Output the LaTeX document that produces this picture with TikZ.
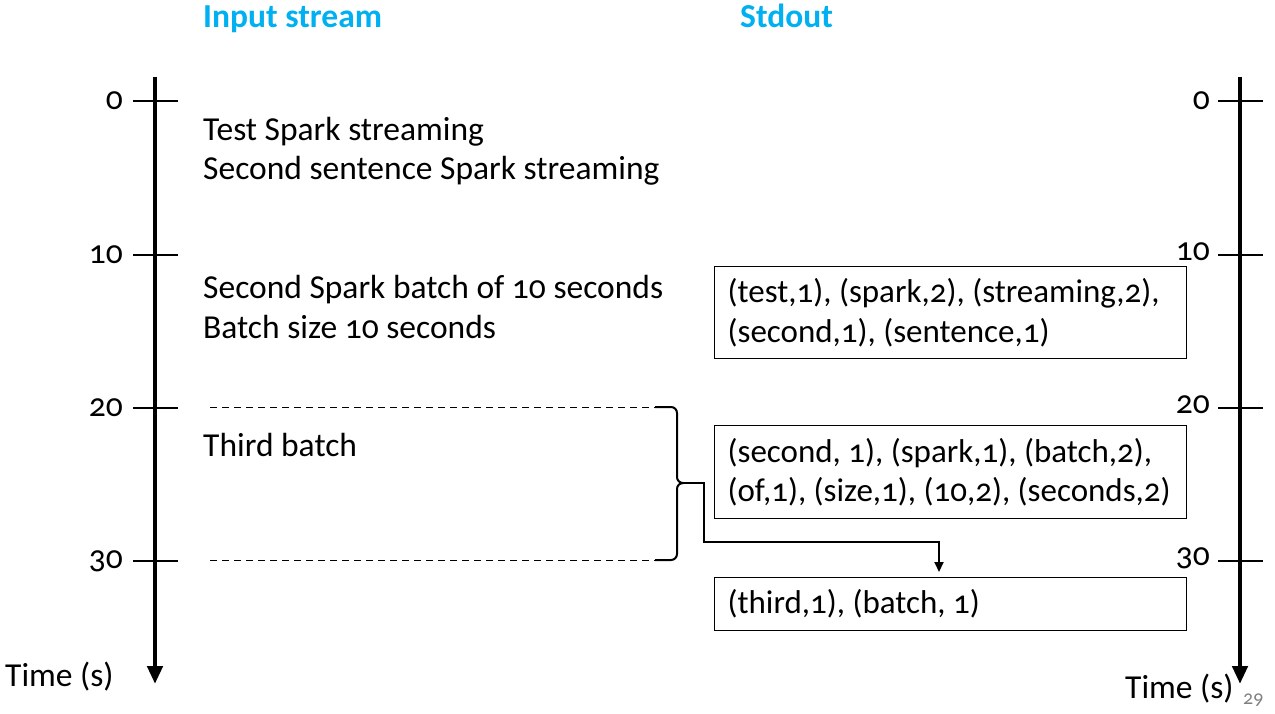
\documentclass[tikz,border=0pt]{standalone}
\usepackage{fontspec}
\setmainfont{Carlito}[Numbers=OldStyle]
\usetikzlibrary{arrows.meta}
\definecolor{titleblue}{RGB}{0,176,240}
\tikzset{
  axis/.style={line width=4.5pt, -{Triangle[length=18pt,width=15pt]}},
  tick/.style={line width=2.5pt},
  outbox/.style={draw, line width=1.2pt, anchor=north west, minimum width=472pt, text width=446pt, inner xsep=13pt, align=flush left, font=\fontsize{33}{39.5}\selectfont},
}

\begin{document}
\begin{tikzpicture}[x=1pt, y=-1pt, font=\fontsize{33.5}{39.5}\selectfont]
\useasboundingbox (0,0) rectangle (1275,714);

% titles
\node[anchor=base west, inner sep=0, text=titleblue, font=\fontsize{33.5}{38}\selectfont\bfseries] (inTitle) at (203,28) {Input stream};
\node[anchor=base west, inner sep=0, text=titleblue, font=\fontsize{33.5}{38}\selectfont\bfseries] (outTitle) at (740,28) {Stdout};

% time axes
\coordinate (L0) at (155,77); \coordinate (L1) at (155,684);
\coordinate (R0) at (1240,77); \coordinate (R1) at (1240,684);
\draw[axis] (L0) -- (L1);
\draw[axis] (R0) -- (R1);
\foreach \t/\y/\s in {0/101/0,10/255/3,20/408/3,30/561/3} {
  \coordinate (tL\t) at (155,\y);
  \coordinate (tR\t) at (1240,\y);
  \draw[tick] ([xshift=-22pt]tL\t) -- ([xshift=23pt]tL\t);
  \draw[tick] ([xshift=-22pt]tR\t) -- ([xshift=23pt]tR\t);
  \node[anchor=east, inner sep=0] (nL\t) at ([xshift=-32pt]tL\t) {\t};
  \node[anchor=east, inner sep=0] (nR\t) at ([xshift=-30pt,yshift=\s pt]tR\t) {\t};
}
\node[anchor=base west, inner sep=0] (timeL) at (5,686) {Time (s)};
\node[anchor=base west, inner sep=0] (timeR) at (1125,698) {Time (s)};
\node[anchor=base west, inner sep=0, text=gray, font=\fontsize{20}{24}\selectfont] (page) at (1243,704) {29};

% input stream
\node[anchor=base west, inner sep=0, align=left] (in1) at (203,180) {Test Spark streaming\\Second sentence Spark streaming};
\node[anchor=base west, inner sep=0, align=left] (in2) at (203,338) {Second Spark batch of 10 seconds\\Batch size 10 seconds};
\node[anchor=base west, inner sep=0] (in3) at (203,456) {Third batch};

% third batch window
\draw[dash pattern=on 7pt off 5pt, line width=1pt] (210,407) -- (655,407);
\draw[dash pattern=on 7pt off 5pt, line width=1pt] (210,560) -- (655,560);
\coordinate (tip) at (680,483);
\draw[line width=2pt, rounded corners=6pt] (655,407) -- (677,407) -- (677,483) -- (tip);
\draw[line width=2pt, rounded corners=6pt] (655,560) -- (677,560) -- (677,483) -- (tip);

% stdout
\node[outbox, minimum height=92pt] (out1) at (714,266) {\mbox{(test,1), (spark,2), (streaming,2),}\\\mbox{(second,1), (sentence,1)}};
\node[outbox, minimum height=93pt] (out2) at (714,425) {\mbox{(second, 1), (spark,1), (batch,2),}\\\mbox{(of,1), (size,1), (10,2), (seconds,2)}};
\node[outbox, minimum height=53pt] (out3) at (714,577) {\mbox{(third,1), (batch, 1)}};

\draw[line width=2pt, -{Triangle[length=10pt,width=9pt]}] (tip) -- (704,483) -- (704,542) -- (939,542) -- ([yshift=5pt]out3.north -| 939,0);
\end{tikzpicture}
\end{document}
